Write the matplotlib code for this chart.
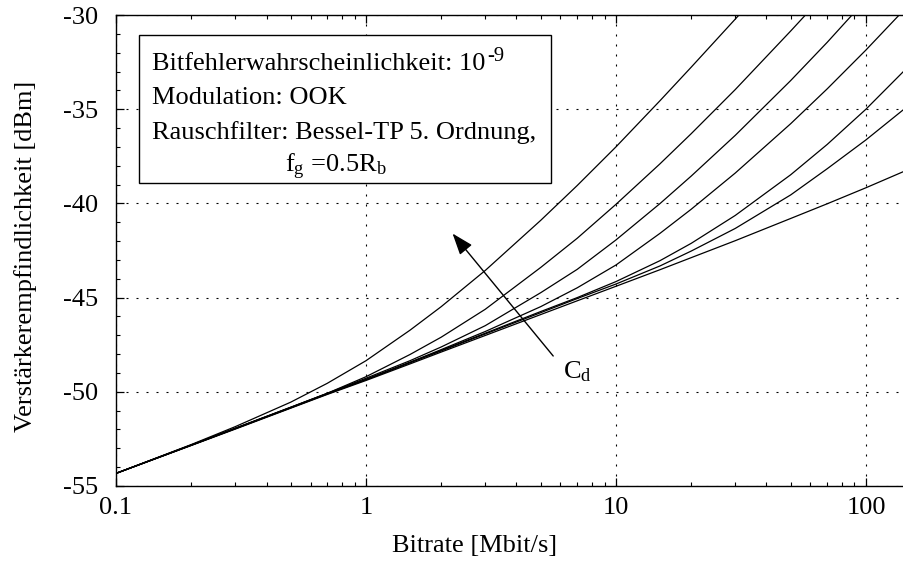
import matplotlib

matplotlib.use("Agg")
import matplotlib.pyplot as plt
import numpy as np
from matplotlib.patches import Rectangle
from matplotlib.ticker import FixedLocator, LogLocator, MultipleLocator, NullFormatter

# Bitrate grid in Mbit/s and the amplifier sensitivity in dBm for
# increasing detector capacitance (cd7 = smallest, cd1 = largest).
bitrate = [0.1, 0.2, 0.3, 0.5, 0.7, 1, 1.5, 2, 3, 5, 7, 10, 15, 20, 30, 50, 70, 100, 142]

sens_cd1 = [-54.33, -52.80, -51.85, -50.55, -49.55, -48.35, -46.73, -45.48, -43.56, -40.90,
            -39.05, -37.00, -34.55, -32.77, -30.22, -26.96, np.nan, np.nan, np.nan]
sens_cd2 = [-54.33, -52.83, -51.94, -50.82, -50.08, -49.20, -48.02, -47.10, -45.62, -43.40,
            -41.85, -40.05, -37.90, -36.30, -33.96, -30.85, -28.75, np.nan, np.nan]
sens_cd3 = [-54.33, -52.82, -51.93, -50.82, -50.08, -49.28, -48.35, -47.62, -46.49, -44.74,
            -43.50, -41.94, -40.01, -38.55, -36.39, -33.48, -31.45, -29.19, np.nan]
sens_cd4 = [-54.33, -52.83, -51.95, -50.84, -50.10, -49.34, -48.43, -47.76, -46.80, -45.48,
            -44.48, -43.27, -41.59, -40.31, -38.39, -35.77, -33.92, -31.86, -29.73]
sens_cd5 = [-54.33, -52.83, -51.95, -50.84, -50.10, -49.35, -48.44, -47.80, -46.89, -45.74,
            -45.00, -44.15, -43.04, -42.12, -40.64, -38.48, -36.87, -35.00, -32.97]
sens_cd6 = [-54.33, -52.84, -51.96, -50.85, -50.12, -49.36, -48.46, -47.83, -46.93, -45.80,
            -45.05, -44.28, -43.32, -42.53, -41.33, -39.55, -38.16, -36.63, -35.00]
sens_cd7 = [-54.33, -52.85, -51.98, -50.87, -50.14, -49.40, -48.52, -47.89, -47.01, -45.90,
            -45.17, -44.40, -43.52, -42.88, -41.98, -40.80, -40.02, -39.17, -38.30]

curves = [sens_cd1, sens_cd2, sens_cd3, sens_cd4, sens_cd5, sens_cd6, sens_cd7]

x_ticks = [0.1, 1, 10, 100]
x_tick_labels = ["0.1", "1", "10", "100"]
y_ticks = [-55, -50, -45, -40, -35, -30]
y_tick_labels = ["-55", "-50", "-45", "-40", "-35", "-30"]

ber_text = "Bitfehlerwahrscheinlichkeit: 10"
ber_exponent = "-9"
info_lines = [
    "Modulation: OOK",
    "Rauschfilter: Bessel-TP 5. Ordnung,",
]
info_cutoff = "f$_\\mathrm{g}$ =0.5R$_\\mathrm{b}$"

plt.rcParams["font.family"] = ["Liberation Serif", "DejaVu Serif"]
plt.rcParams["mathtext.fontset"] = "custom"
plt.rcParams["mathtext.rm"] = "Liberation Serif"
plt.rcParams["mathtext.it"] = "Liberation Serif:italic"
plt.rcParams["mathtext.bf"] = "Liberation Serif:bold"
plt.rcParams["axes.unicode_minus"] = False
FS = 19

W, H = 904, 563
fig = plt.figure(figsize=(W / 100, H / 100), dpi=100)
ax = fig.add_axes([116 / W, 77 / H, 788 / W, 471 / H])

for sens in curves:
    ax.plot(bitrate, sens, color="black", lw=0.9, zorder=2)

ax.set_xscale("log")
ax.set_xlim(0.1, 142)
ax.set_ylim(-55, -30)

ax.xaxis.set_major_locator(FixedLocator(x_ticks))
ax.set_xticklabels(x_tick_labels)
ax.xaxis.set_minor_locator(LogLocator(base=10, subs=np.arange(2, 10)))
ax.xaxis.set_minor_formatter(NullFormatter())
ax.yaxis.set_major_locator(FixedLocator(y_ticks))
ax.set_yticklabels(y_tick_labels)
ax.yaxis.set_minor_locator(MultipleLocator(1))

ax.tick_params(which="both", direction="in", top=True, right=False, labelsize=FS, colors="black")
ax.tick_params(which="major", length=6, width=0.9)
ax.tick_params(which="minor", length=3, width=0.8)
ax.tick_params(axis="y", pad=13)
ax.tick_params(axis="x", pad=8)

ax.spines["right"].set_visible(False)
for side in ("left", "bottom", "top"):
    ax.spines[side].set_linewidth(1.0)

ax.grid(True, which="major", color="black", lw=0.8, linestyle=(0, (1.8, 7.2)))

ax.set_xlabel("Bitrate [Mbit/s]", fontsize=FS)
ax.set_ylabel("Verstärkerempfindlichkeit [dBm]", fontsize=FS)
ax.xaxis.set_label_coords(0.455, -0.105)
ax.yaxis.set_label_coords(-0.10, 0.488)

# parameter box in the upper left corner
box = Rectangle((0.0292, 0.6433), 0.5228, 0.3142, transform=ax.transAxes,
                facecolor="white", edgecolor="black", lw=1.0, zorder=3)
ax.add_patch(box)
ber = ax.text(0.0457, 0.8832, ber_text, transform=ax.transAxes, fontsize=FS,
              ha="left", va="baseline", zorder=4)
ax.annotate(ber_exponent, xy=(1.0, 0.0), xycoords=ber, xytext=(1.5, 6.5),
            textcoords="offset points", fontsize=FS * 0.78,
            ha="left", va="bottom", zorder=4)
for text, yb in zip(info_lines, [0.811, 0.7367]):
    ax.text(0.0457, yb, text, transform=ax.transAxes, fontsize=FS,
            ha="left", va="baseline", zorder=4)
ax.text(0.2145, 0.6667, info_cutoff, transform=ax.transAxes, fontsize=FS,
        ha="left", va="baseline", zorder=4)

# arrow for increasing detector capacitance
ax.annotate("", xy=(2.22, -41.6), xytext=(5.61, -48.1),
            arrowprops=dict(arrowstyle="-|>,head_length=0.55,head_width=0.2",
                            color="black", lw=1.0, mutation_scale=24,
                            shrinkA=0, shrinkB=0), zorder=4)
ax.text(6.14, -49.3, "C$_\\mathrm{d}$", fontsize=FS, ha="left", va="baseline")

fig.savefig("out.png", dpi=100)
